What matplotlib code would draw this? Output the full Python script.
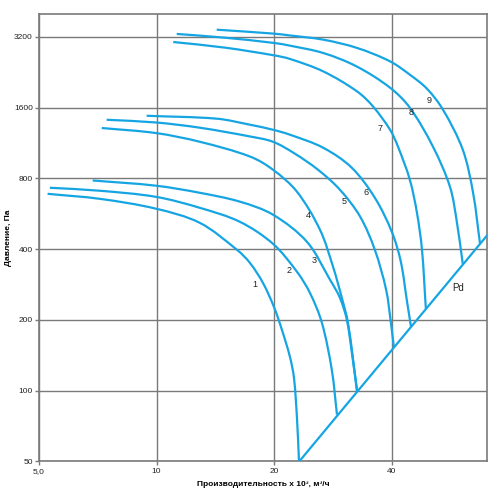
import matplotlib
matplotlib.use('Agg')
import numpy as np
import matplotlib.pyplot as plt
from matplotlib.path import Path
from matplotlib.patches import PathPatch
from matplotlib.ticker import FixedLocator, FixedFormatter, NullLocator

plt.rcParams['font.family'] = ['Liberation Sans', 'DejaVu Sans']

# характеристики вентиляторов 1..9 (расход x10^3 м3/ч, давление Па)
x1 = [5.26, 7.16, 9.96, 12.9, 16.06, 17.34, 18.72, 19.97, 20.94, 21.95, 22.48, 22.88, 23.15]
y1 = [687, 654, 594, 517, 397, 349, 287, 227, 181, 139, 113, 76, 50]

x2 = [5.33, 7.16, 9.96, 12.9, 16.35, 19.86, 22.88, 24.7, 26.5, 28.1, 28.96]
y2 = [729, 708, 667, 599, 522, 421, 320, 260, 194, 122, 79]

x3 = [6.86, 9.96, 12.9, 16.35, 19.86, 24.27, 27.8, 29.47, 30.7, 31.6, 32.6]
y3 = [783, 744, 694, 636, 560, 429, 296, 248, 200, 146, 99]

x4 = [7.24, 9.96, 12.9, 17.34, 19.86, 22.88, 26.2, 28.3, 29.8, 30.9, 32.6]
y4 = [1309, 1246, 1144, 990, 870, 701, 483, 336, 248, 194, 100]

x5 = [7.45, 9.96, 12.9, 17.34, 19.86, 22.6, 25.89, 29.47, 33.2, 36.2, 38.7, 39.8, 40.5]
y5 = [1419, 1382, 1313, 1205, 1144, 1018, 870, 715, 549, 397, 268, 194, 153]

x6 = [9.43, 14.28, 17.34, 19.86, 21.95, 26.7, 31.6, 36.2, 40.0, 42.2, 43.7, 44.8]
y6 = [1476, 1434, 1352, 1287, 1226, 1079, 887, 661, 474, 353, 243, 187]

x7 = [11.03, 14.96, 20.0, 21.95, 26.7, 32.6, 35.8, 39.6, 41.5, 44.5, 46.4, 47.8, 48.9]
y7 = [3040, 2877, 2667, 2575, 2280, 1874, 1618, 1287, 1090, 788, 571, 397, 223]

x8 = [11.26, 14.96, 20.0, 21.95, 26.7, 32.5, 39.6, 44.5, 51.0, 56.4, 58.7, 60.8]
y8 = [3290, 3171, 3011, 2933, 2730, 2394, 1943, 1597, 1090, 734, 522, 345]

x9 = [14.25, 20.0, 21.95, 26.7, 32.6, 39.6, 44.5, 49.2, 54.1, 60.8, 64.6, 67.3]
y9 = [3430, 3299, 3241, 3111, 2868, 2515, 2207, 1925, 1566, 1058, 694, 421]

# линия динамического давления
pd_x = [23.2, 70]
pd_y = [50, 455]

curves = [(x1, y1), (x2, y2), (x3, y3), (x4, y4), (x5, y5),
          (x6, y6), (x7, y7), (x8, y8), (x9, y9)]

curve_names = ['1', '2', '3', '4', '5', '6', '7', '8', '9']
label_x = [17.86, 21.8, 25.3, 24.4, 30.2, 34.4, 37.3, 44.8, 49.8]
label_y = [282, 323, 356, 554, 636, 694, 1300, 1521, 1710]

x_ticks = [5, 10, 20, 40]
x_tick_labels = ['5,0', '10', '20', '40']
y_ticks = [50, 100, 200, 400, 800, 1600, 3200]
y_tick_labels = ['50', '100', '200', '400', '800', '1600', '3200']

blue = '#16a5e3'
gray = '#7a7a7a'

# масштаб лог. осей примерно как на экране (пикс. на декаду), чтобы сглаживание не искажалось
SX, SY = 390.0, 235.0


def smooth_path(xs, ys):
    # сглаженная линия через точки (Catmull-Rom по длине хорды)
    p = np.column_stack([np.log10(xs) * SX, np.log10(ys) * SY])
    d = np.hypot(*np.diff(p, axis=0).T)
    t = np.concatenate([[0], np.cumsum(d)])
    n = len(p)
    m = np.zeros_like(p)
    m[0] = (p[1] - p[0]) / (t[1] - t[0])
    m[-1] = (p[-1] - p[-2]) / (t[-1] - t[-2])
    for i in range(1, n - 1):
        m[i] = (p[i + 1] - p[i - 1]) / (t[i + 1] - t[i - 1])
    verts = [p[0]]
    codes = [Path.MOVETO]
    for i in range(n - 1):
        dt = t[i + 1] - t[i]
        verts += [p[i] + m[i] * dt / 3, p[i + 1] - m[i + 1] * dt / 3, p[i + 1]]
        codes += [Path.CURVE4] * 3
    v = np.array(verts)
    v = 10 ** (v / [SX, SY])
    return Path(v, codes)


fig = plt.figure(figsize=(5, 4.98), dpi=100)
ax = fig.add_axes([0.078, 0.0737, 0.8954, 0.8982])

for cx, cy in curves:
    ax.add_patch(PathPatch(smooth_path(cx, cy), fill=False, edgecolor=blue,
                           lw=1.6, capstyle='butt', zorder=3))
ax.plot(pd_x, pd_y, color=blue, lw=1.6, zorder=3)

for name, lx, ly in zip(curve_names, label_x, label_y):
    ax.text(lx, ly, name, fontsize=6.5, ha='center', va='center', color='#222222')
ax.text(59.1, 273, 'Pd', fontsize=7, ha='center', va='center', color='#222222')

ax.set_xscale('log')
ax.set_yscale('log')
ax.set_xlim(5, 70)
ax.set_ylim(50, 4000)

ax.xaxis.set_major_locator(FixedLocator(x_ticks))
ax.xaxis.set_major_formatter(FixedFormatter(x_tick_labels))
ax.xaxis.set_minor_locator(NullLocator())
ax.yaxis.set_major_locator(FixedLocator(y_ticks))
ax.yaxis.set_major_formatter(FixedFormatter(y_tick_labels))
ax.yaxis.set_minor_locator(NullLocator())

ax.grid(True, color=gray, lw=1.0)
ax.set_axisbelow(True)
for s in ax.spines.values():
    s.set_color(gray)
    s.set_linewidth(1.2)
ax.tick_params(axis='both', length=3, width=1, color=gray, labelsize=6, pad=1.5,
               labelcolor='#222222')

ax.set_xlabel('Производительность x 10³, м³/ч', fontsize=6, fontweight='bold',
              labelpad=5)
ax.set_ylabel('Давление, Па', fontsize=6, fontweight='bold', labelpad=1)

fig.savefig('out.png', dpi=100)
